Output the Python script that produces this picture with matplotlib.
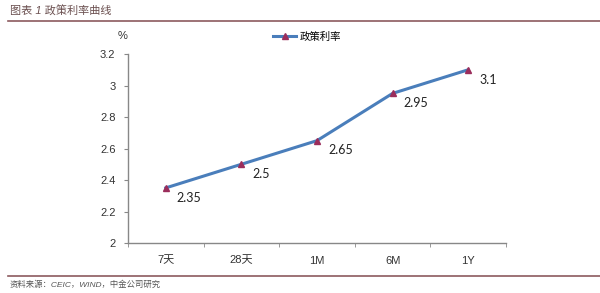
import matplotlib
matplotlib.use('Agg')
from matplotlib import pyplot as plt
from matplotlib.lines import Line2D

plt.rcParams['font.family'] = ['Liberation Sans', 'Noto Sans CJK SC']

categories = ['7天', '28天', '1M', '6M', '1Y']
rates = [2.35, 2.5, 2.65, 2.95, 3.1]
yticks = [2, 2.2, 2.4, 2.6, 2.8, 3, 3.2]
ytick_labels = ['2', '2.2', '2.4', '2.6', '2.8', '3', '3.2']
series_name = '政策利率'
title = '图表 1 政策利率曲线'
source = '资料来源：CEIC，WIND，中金公司研究'

fig = plt.figure(figsize=(6, 2.93), dpi=100)
ax = fig.add_axes([0.2133, 0.1706, 0.63, 0.645])

x = range(len(categories))
ax.plot(x, rates, color='#4a7ebb', linewidth=2.2, marker='^',
        markersize=5, markerfacecolor='#9b2d5b', markeredgecolor='#9b2d5b',
        zorder=3)
for i, v in enumerate(rates):
    ax.annotate(f'{v:g}', (i, v), xytext=(8, -7), textcoords='offset points',
                fontsize=9, color='#222222', va='center', ha='left',
                family=['Lato', 'DejaVu Sans'])

ax.set_xlim(-0.5, len(categories) - 0.5)
ax.set_ylim(2, 3.2)
ax.set_yticks(yticks)
ax.set_yticklabels(ytick_labels)
ax.set_xticks(list(x))
ax.set_xticklabels(categories)
ax.set_xticks([i - 0.5 for i in range(len(categories) + 1)], minor=True)
ax.tick_params(axis='x', which='major', length=0, pad=9, labelsize=8, colors='#333333')
ax.tick_params(axis='x', which='minor', length=3, color='#888888', direction='out')
ax.tick_params(axis='y', length=3, color='#888888', labelsize=8, labelcolor='#333333', pad=6)
for s in ['top', 'right']:
    ax.spines[s].set_visible(False)
for s in ['left', 'bottom']:
    ax.spines[s].set_color('#888888')
    ax.spines[s].set_linewidth(1)

fig.text(123 / 600, 1 - 36 / 293, '%', fontsize=8, ha='center', va='center', color='#333333')

handle = Line2D([], [], color='#4a7ebb', linewidth=2.2, marker='^', markersize=4,
                markerfacecolor='#9b2d5b', markeredgecolor='#9b2d5b')
fig.legend([handle], [series_name], loc='center', bbox_to_anchor=(307 / 600, 1 - 37 / 293),
           frameon=False, fontsize=7.5, handlelength=2.2, handletextpad=0.3)

fig.text(10 / 600, 1 - 11 / 293, title, fontsize=8, style='italic', color='#6b5050',
         ha='left', va='center')
fig.add_artist(Line2D([8 / 600, 1], [1 - 21 / 293] * 2, color='#8c5a5f', linewidth=1.2))
fig.add_artist(Line2D([8 / 600, 1], [1 - 276 / 293] * 2, color='#8c5a5f', linewidth=1.2))
fig.text(10 / 600, 1 - 285 / 293, source, fontsize=6, style='italic', color='#555555',
         ha='left', va='center')

fig.savefig('out.png', dpi=100)
